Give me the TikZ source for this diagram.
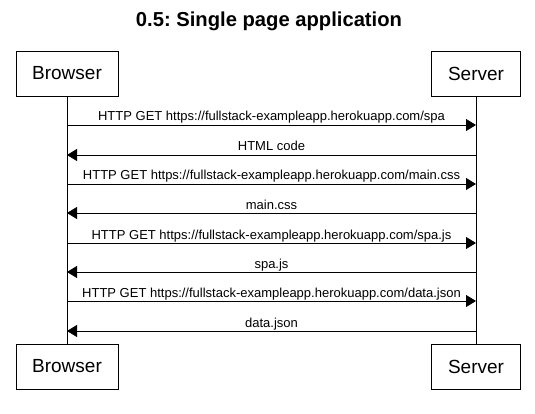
\documentclass[tikz,border=0pt]{standalone}
\usepackage{fontspec}
\setmainfont{Liberation Sans}
\usetikzlibrary{arrows.meta}
\frenchspacing
\begin{document}
\begin{tikzpicture}[x=1pt,y=-1pt,
  actor/.style={draw=black,line width=0.8pt,fill=white,minimum width=102pt,minimum height=45pt,inner sep=0pt,font=\fontsize{19}{21}\selectfont},
  msg/.style={line width=0.8pt,-{Triangle[length=10pt,width=12pt]}},
  lbl/.style={font=\fontsize{13}{15}\selectfont,inner sep=0pt,anchor=base}]
\useasboundingbox (0,0) rectangle (535,414);
\node[font=\bfseries\fontsize{20.2}{22}\selectfont] (title) at (269,21) {0.5: Single page application};
\node[actor] (bt) at (67,73.5) {Browser};
\node[actor,minimum width=89pt] (st) at (476,73.5) {Server};
\node[actor] (bb) at (67,366.5) {Browser};
\node[actor,minimum width=89pt] (sb) at (476,366.5) {Server};
\draw[line width=0.8pt] (bt.south) -- (bb.north);
\draw[line width=0.8pt] (st.south) -- (sb.north);
\foreach \i/\y/\d/\t in {1/125/r/{HTTP GET https://fullstack-exampleapp.herokuapp.com/spa},
  2/155/l/{HTML code},
  3/184/r/{HTTP GET https://fullstack-exampleapp.herokuapp.com/main.css},
  4/213/l/{main.css},
  5/243/r/{HTTP GET https://fullstack-exampleapp.herokuapp.com/spa.js},
  6/272/l/{spa.js},
  7/301/r/{HTTP GET https://fullstack-exampleapp.herokuapp.com/data.json},
  8/331/l/{data.json}}{
  \coordinate (b\i) at (67,\y);
  \coordinate (s\i) at (476,\y);
  \if r\d
    \draw[msg] (b\i) -- (s\i);
  \else
    \draw[msg] (s\i) -- (b\i);
  \fi
  \node[lbl] (m\i) at (271.5,\y-4) {\t};
}
\end{tikzpicture}
\end{document}
